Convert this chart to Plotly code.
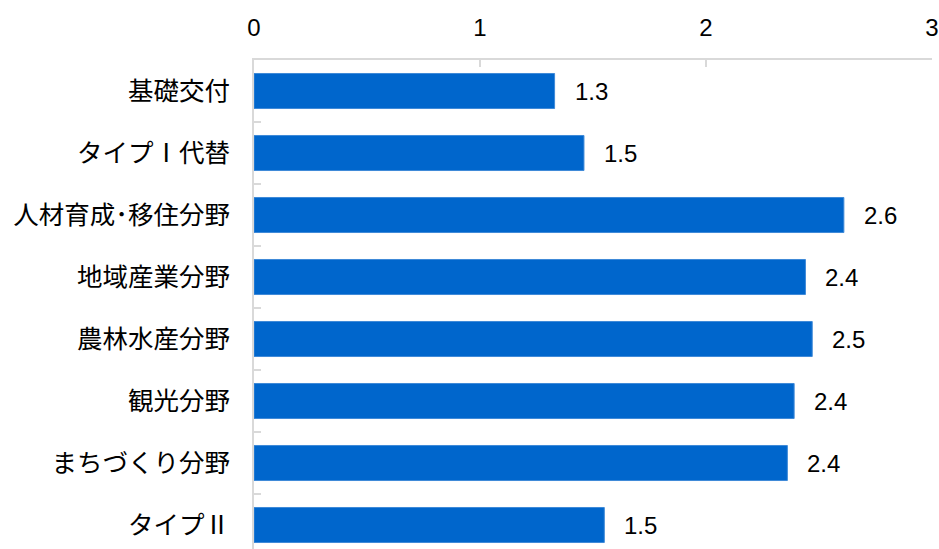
import plotly.graph_objects as go

categories = ["基礎交付", "タイプⅠ代替", "人材育成･移住分野", "地域産業分野", "農林水産分野", "観光分野", "まちづくり分野", "タイプⅡ"]
values = [1.33, 1.46, 2.61, 2.44, 2.47, 2.39, 2.36, 1.55]
labels = ["1.3", "1.5", "2.6", "2.4", "2.5", "2.4", "2.4", "1.5"]
x_ticks = [0, 1, 2, 3]

FONT = "Arial, 'Liberation Sans', 'Noto Sans CJK JP', sans-serif"

fig = go.Figure()
fig.add_trace(go.Bar(
    y=categories, x=values, orientation="h",
    marker=dict(color="#0066cc", line=dict(color="#3f8ad8", width=1)),
    width=0.565,
    hoverinfo="skip",
))
for c, v, t in zip(categories, values, labels):
    fig.add_annotation(x=v, y=c, text=t, showarrow=False, xanchor="left",
                       xshift=18, font=dict(size=24, color="#000000", family=FONT))

fig.update_layout(
    width=939, height=549,
    margin=dict(l=254, r=7, t=60, b=0),
    paper_bgcolor="white", plot_bgcolor="white",
    showlegend=False,
    font=dict(family=FONT, size=24, color="#000000"),
    xaxis=dict(
        side="top", range=[0, 3], tickmode="array", tickvals=x_ticks,
        ticktext=[str(t) for t in x_ticks],
        showgrid=False, zeroline=False, automargin=False,
        showline=True, linecolor="#d9d9d9", linewidth=2,
        ticks="inside", ticklen=7, tickcolor="#d9d9d9", tickwidth=2,
        tickfont=dict(size=24, family=FONT, color="#000000"), ticklabelstandoff=12,
    ),
    yaxis=dict(
        type="category", range=[7.387, -0.5],
        showgrid=False, zeroline=False, automargin=False,
        showline=True, linecolor="#d9d9d9", linewidth=2,
        ticks="inside", tickson="boundaries", ticklen=7, tickcolor="#d9d9d9", tickwidth=2,
        tickfont=dict(size=25.5, family="'Noto Sans CJK JP', sans-serif"), ticklabelstandoff=17,
    ),
)

fig.write_html("out.html", config={"displayModeBar": False},
               post_script="document.body.style.margin='0';document.body.style.padding='0';")
